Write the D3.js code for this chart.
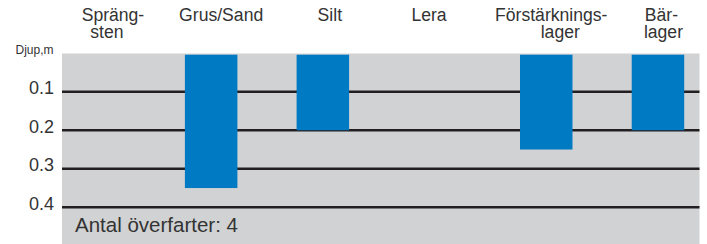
<!DOCTYPE html>
<html>
<head>
<meta charset="utf-8">
<script src="https://cdn.jsdelivr.net/npm/d3@7/dist/d3.min.js"></script>
<style>
  html, body { margin: 0; padding: 0; background: #fff; }
  svg { display: block; font-family: "Liberation Sans", Arial, sans-serif; }
</style>
</head>
<body>
<svg id="chart" width="707" height="244"></svg>
<script>
// Data
const categories = ["Sprängsten", "Grus/Sand", "Silt", "Lera", "Förstärkningslager", "Bärlager"];
const categoryLabels = [["Spräng-", "sten"], ["Grus/Sand"], ["Silt"], ["Lera"], ["Förstärknings-", "lager"], ["Bär-", "lager"]];
const depths = [0, 0.35, 0.2, 0, 0.25, 0.2];
const yTicks = [0.1, 0.2, 0.3, 0.4];
const yTitle = "Djup,m";
const note = "Antal överfarter: 4";

const W = 707, H = 244;
const plot = { left: 62, right: 699.5, top: 53.5, bottom: 244 };
// small horizontal nudges of the header label lines (layout only)
const labelNudge = [[13.5, 7.5], [10], [7], [-5.5], [5, 14], [3.5, 5.5]];

const svg = d3.select("#chart");

const x = d3.scaleBand()
  .domain(categories)
  .range([43.6, 713.8])
  .paddingInner(0.53)
  .paddingOuter(0.265);

const y = d3.scaleLinear()
  .domain([0, 0.4])
  .range([53.2, 207.3]);

// Background
svg.append("rect")
  .attr("x", plot.left).attr("y", plot.top)
  .attr("width", plot.right - plot.left).attr("height", plot.bottom - plot.top)
  .attr("fill", "#d1d2d4");

// Grid lines
svg.append("g").selectAll("line")
  .data(yTicks).join("line")
  .attr("x1", plot.left).attr("x2", plot.right)
  .attr("y1", d => y(d)).attr("y2", d => y(d))
  .attr("stroke", "#231f20").attr("stroke-width", 2.6);

// Bars
svg.append("g").selectAll("rect")
  .data(categories.map((c, i) => ({ c, v: depths[i] })).filter(d => d.v > 0))
  .join("rect")
  .attr("x", d => x(d.c))
  .attr("width", x.bandwidth())
  .attr("y", y(0) + 1.5)
  .attr("height", d => y(d.v) - y(0) - 1.5)
  .attr("fill", "#007ac2");

const textFill = "#333";

// Y axis tick labels
const yAxis = d3.axisLeft(y).tickValues(yTicks).tickSize(0).tickPadding(0).tickFormat(d3.format(".1f"));
const ya = svg.append("g").attr("transform", `translate(54,0)`).call(yAxis);
ya.select(".domain").remove();
ya.selectAll("text")
  .attr("font-family", "Liberation Sans, Arial, sans-serif")
  .attr("font-size", 18).attr("fill", textFill)
  .attr("dy", "0.1em");

// Y title
svg.append("text")
  .attr("x", 53.5).attr("y", 54.3)
  .attr("text-anchor", "end")
  .attr("font-size", 12).attr("fill", textFill)
  .text(yTitle);

// Category labels
const lab = svg.append("g").selectAll("text")
  .data(categories.map((c, i) => ({ c, i, lines: categoryLabels[i] })))
  .join("text")
  .attr("text-anchor", "middle")
  .attr("font-size", 17.6).attr("fill", textFill);
lab.selectAll("tspan")
  .data(d => d.lines.map((l, j) => ({ l, j, c: d.c, i: d.i })))
  .join("tspan")
  .attr("x", d => x(d.c) + x.bandwidth() / 2 + labelNudge[d.i][d.j])
  .attr("y", d => 21 + d.j * 17)
  .text(d => d.l);

// Note
svg.append("text")
  .attr("x", 75).attr("y", 232.3)
  .attr("font-size", 20.5).attr("fill", textFill)
  .text(note);
</script>
</body>
</html>
